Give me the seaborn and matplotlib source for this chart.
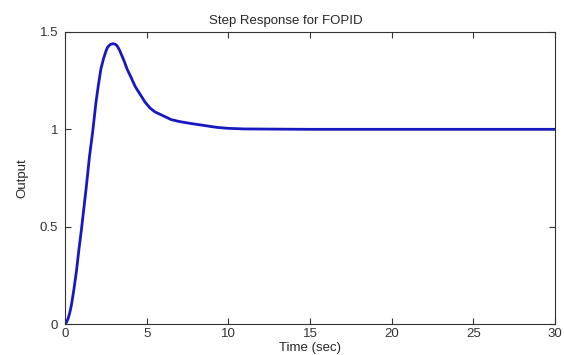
import seaborn as sns
import pandas as pd
import matplotlib.pyplot as plt

time = [0, 0.1, 0.2, 0.3, 0.4, 0.55, 0.7, 0.85, 1.0, 1.15, 1.3, 1.5, 1.7, 1.9, 2.05,
        2.2, 2.35, 2.5, 2.6, 2.7, 2.8, 2.95, 3.1, 3.2, 3.35, 3.5, 3.65, 3.8, 4.0,
        4.3, 4.6, 4.9, 5.2, 5.5, 6.0, 6.5, 7.0, 7.7, 8.5, 9.3, 10, 11, 15, 20, 25, 30]
output = [0, 0.01, 0.03, 0.06, 0.1, 0.18, 0.27, 0.38, 0.48, 0.59, 0.70, 0.86, 0.99, 1.14, 1.23,
          1.31, 1.36, 1.40, 1.42, 1.43, 1.437, 1.44, 1.436, 1.428, 1.405, 1.375, 1.345, 1.31, 1.275,
          1.22, 1.18, 1.14, 1.11, 1.09, 1.07, 1.05, 1.04, 1.03, 1.02, 1.01, 1.005, 1.002, 1.0, 1.0, 1.0, 1.0]
xticks = [0, 5, 10, 15, 20, 25, 30]
yticks = [0, 0.5, 1, 1.5]

df = pd.DataFrame({'Time': time, 'Output': output})

sns.set_style('ticks', {'xtick.direction': 'in', 'ytick.direction': 'in'})
plt.rcParams['font.family'] = ['Liberation Sans', 'DejaVu Sans']

fig = plt.figure(figsize=(5.64, 3.55), dpi=100)
ax = fig.add_axes([0.1152, 0.0873, 0.8688, 0.8226])

sns.lineplot(data=df, x='Time', y='Output', ax=ax, color='#1818c0', linewidth=2)

ax.set_xlim(0, 30)
ax.set_ylim(0, 1.5)
ax.set_xticks(xticks)
ax.set_yticks(yticks)
ax.set_yticklabels(['0', '0.5', '1', '1.5'])
ax.tick_params(top=True, right=True, labelsize=9.5, length=4, width=0.8, colors='#333333')
ax.tick_params(axis='y', pad=5)
ax.tick_params(axis='x', pad=3)
for s in ax.spines.values():
    s.set_color('#333333')
    s.set_linewidth(0.8)
ax.set_xlabel('Time (sec)', fontsize=9.5, labelpad=1)
ax.set_ylabel('Output', fontsize=9.5, labelpad=8)
ax.set_title('Step Response for FOPID', fontsize=9.5, pad=6, x=0.45)

fig.savefig('out.png', dpi=100)
